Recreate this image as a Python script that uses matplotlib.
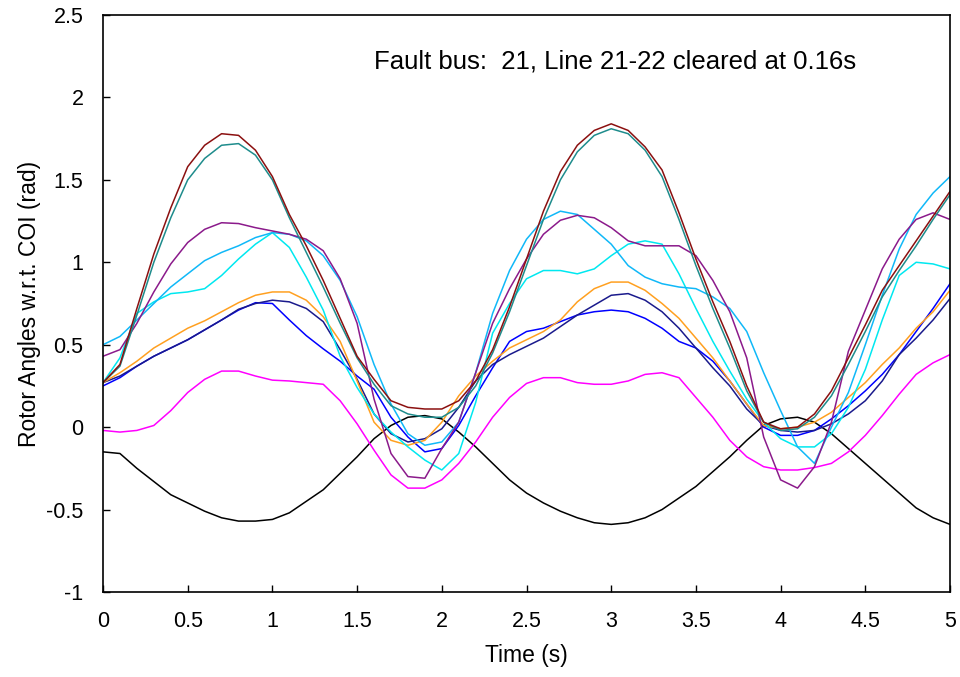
import matplotlib
matplotlib.use("Agg")
import matplotlib.pyplot as plt
import numpy as np
from matplotlib.ticker import FuncFormatter, MultipleLocator

plt.rcParams['font.family'] = ['Liberation Sans', 'DejaVu Sans']

# tiempo (s), una muestra cada 0.1 s
t = np.arange(51) * 0.1

maroon = [0.27, 0.38, 0.72, 1.05, 1.33, 1.58, 1.71, 1.78, 1.77, 1.68,
          1.52, 1.29, 1.10, 0.89, 0.66, 0.43, 0.29, 0.16, 0.12, 0.11,
          0.11, 0.16, 0.28, 0.47, 0.73, 1.02, 1.31, 1.55, 1.71, 1.80,
          1.84, 1.80, 1.70, 1.56, 1.30, 1.02, 0.76, 0.52, 0.25, 0.03,
          -0.01, 0.00, 0.08, 0.22, 0.42, 0.62, 0.83, 0.98, 1.13, 1.28, 1.43]
teal = [0.27, 0.37, 0.68, 1.00, 1.27, 1.50, 1.63, 1.71, 1.72, 1.65,
        1.50, 1.27, 1.06, 0.85, 0.63, 0.42, 0.26, 0.13, 0.08, 0.06,
        0.06, 0.12, 0.25, 0.45, 0.70, 0.98, 1.26, 1.50, 1.67, 1.77,
        1.81, 1.78, 1.68, 1.52, 1.26, 0.98, 0.72, 0.48, 0.22, 0.03,
        -0.02, -0.01, 0.06, 0.19, 0.38, 0.58, 0.79, 0.95, 1.10, 1.26, 1.41]
purple = [0.43, 0.47, 0.63, 0.82, 0.99, 1.12, 1.20, 1.24, 1.235, 1.21,
          1.19, 1.17, 1.14, 1.07, 0.90, 0.63, 0.17, -0.16, -0.30, -0.31,
          -0.13, 0.03, 0.33, 0.63, 0.84, 1.02, 1.17, 1.255, 1.285, 1.27,
          1.21, 1.13, 1.10, 1.10, 1.10, 1.04, 0.89, 0.70, 0.42, -0.06,
          -0.32, -0.37, -0.24, 0.03, 0.46, 0.71, 0.96, 1.14, 1.26, 1.30, 1.26]
skyblue = [0.50, 0.55, 0.65, 0.75, 0.85, 0.93, 1.01, 1.06, 1.10, 1.15,
           1.18, 1.17, 1.13, 1.04, 0.89, 0.67, 0.38, 0.14, -0.04, -0.11,
           -0.09, 0.03, 0.33, 0.69, 0.95, 1.14, 1.26, 1.31, 1.29, 1.20,
           1.11, 0.98, 0.91, 0.87, 0.85, 0.84, 0.79, 0.72, 0.58, 0.33,
           0.10, -0.12, -0.22, 0.00, 0.21, 0.50, 0.80, 1.08, 1.29, 1.42, 1.52]
cyan = [0.27, 0.42, 0.69, 0.76, 0.81, 0.82, 0.84, 0.92, 1.02, 1.11,
        1.18, 1.09, 0.91, 0.71, 0.43, 0.24, 0.08, -0.03, -0.12, -0.20,
        -0.26, -0.16, 0.15, 0.57, 0.75, 0.90, 0.95, 0.95, 0.93, 0.96,
        1.04, 1.11, 1.13, 1.11, 0.93, 0.72, 0.52, 0.34, 0.17, 0.03,
        -0.07, -0.12, -0.12, -0.04, 0.12, 0.35, 0.65, 0.92, 1.00, 0.99, 0.96]
orange = [0.27, 0.33, 0.40, 0.48, 0.54, 0.60, 0.645, 0.70, 0.755, 0.80,
          0.82, 0.82, 0.77, 0.67, 0.52, 0.28, 0.03, -0.08, -0.11, -0.08,
          0.03, 0.19, 0.31, 0.40, 0.48, 0.53, 0.58, 0.65, 0.76, 0.84,
          0.88, 0.88, 0.83, 0.75, 0.66, 0.54, 0.42, 0.28, 0.14, 0.01,
          -0.01, 0.00, 0.03, 0.09, 0.18, 0.27, 0.38, 0.48, 0.60, 0.70, 0.83]
navy = [0.27, 0.31, 0.37, 0.43, 0.48, 0.53, 0.59, 0.65, 0.715, 0.75,
        0.77, 0.76, 0.72, 0.64, 0.47, 0.29, 0.08, -0.04, -0.09, -0.07,
        -0.01, 0.12, 0.28, 0.38, 0.44, 0.49, 0.54, 0.61, 0.68, 0.74,
        0.80, 0.81, 0.77, 0.70, 0.60, 0.48, 0.36, 0.25, 0.11, 0.01,
        -0.02, -0.03, -0.02, 0.02, 0.08, 0.16, 0.28, 0.44, 0.54, 0.65, 0.78]
blue = [0.25, 0.30, 0.37, 0.43, 0.48, 0.53, 0.59, 0.65, 0.71, 0.755,
        0.75, 0.65, 0.555, 0.475, 0.40, 0.31, 0.23, 0.06, -0.06, -0.15,
        -0.13, 0.01, 0.19, 0.36, 0.52, 0.58, 0.60, 0.64, 0.68, 0.70,
        0.71, 0.70, 0.66, 0.60, 0.52, 0.48, 0.40, 0.28, 0.14, 0.00,
        -0.05, -0.05, -0.02, 0.05, 0.13, 0.22, 0.32, 0.44, 0.58, 0.72, 0.87]
magenta = [-0.02, -0.03, -0.02, 0.01, 0.10, 0.21, 0.29, 0.34, 0.34, 0.31,
           0.285, 0.28, 0.27, 0.26, 0.16, 0.02, -0.14, -0.29, -0.37, -0.37,
           -0.32, -0.22, -0.09, 0.06, 0.18, 0.265, 0.30, 0.30, 0.27, 0.26,
           0.26, 0.28, 0.32, 0.33, 0.30, 0.18, 0.06, -0.08, -0.18, -0.24,
           -0.26, -0.26, -0.245, -0.22, -0.15, -0.05, 0.07, 0.20, 0.32, 0.39, 0.44]
black = [-0.15, -0.16, -0.25, -0.33, -0.41, -0.46, -0.51, -0.55, -0.57, -0.57,
         -0.56, -0.52, -0.45, -0.38, -0.28, -0.18, -0.07, 0.01, 0.06, 0.07,
         0.05, -0.03, -0.12, -0.22, -0.32, -0.40, -0.46, -0.51, -0.55, -0.58,
         -0.59, -0.58, -0.55, -0.50, -0.43, -0.36, -0.27, -0.18, -0.08, 0.01,
         0.05, 0.06, 0.03, -0.04, -0.13, -0.22, -0.31, -0.40, -0.49, -0.55, -0.59]

series = [
    (black, '#000000'),
    (magenta, '#FF00FF'),
    (blue, '#0000FF'),
    (navy, '#1A1A8C'),
    (orange, '#FFA020'),
    (cyan, '#00E8F0'),
    (skyblue, '#10B8F8'),
    (purple, '#8B1A8B'),
    (teal, '#1E8C8C'),
    (maroon, '#8B1010'),
]

fig = plt.figure(figsize=(9.6, 6.77), dpi=100)
ax = fig.add_axes([0.1073, 0.1256, 0.8823, 0.8522])

for valores, color in series:
    ax.plot(t, valores, color=color, linewidth=1.1)

ax.set_xlim(0, 5)
ax.set_ylim(-1, 2.5)
ax.xaxis.set_major_locator(MultipleLocator(0.5))
ax.yaxis.set_major_locator(MultipleLocator(0.5))
fmt = FuncFormatter(lambda v, pos: f"{v:g}")
ax.xaxis.set_major_formatter(fmt)
ax.yaxis.set_major_formatter(fmt)
ax.tick_params(direction='in', length=5, width=1, labelsize=15.5,
               top=False, right=False)
ax.tick_params(axis='x', pad=14)
ax.tick_params(axis='y', pad=14)
for sp in ax.spines.values():
    sp.set_linewidth(1.2)

ax.set_xlabel("Time (s)", fontsize=16.5, labelpad=8)
ax.set_ylabel("Rotor Angles w.r.t. COI (rad)", fontsize=16.5, labelpad=4)

ax.text(3.02, 2.22, "Fault bus:  21, Line 21-22 cleared at 0.16s",
        ha='center', va='center', fontsize=18.5)

fig.savefig("out.png", dpi=100)
